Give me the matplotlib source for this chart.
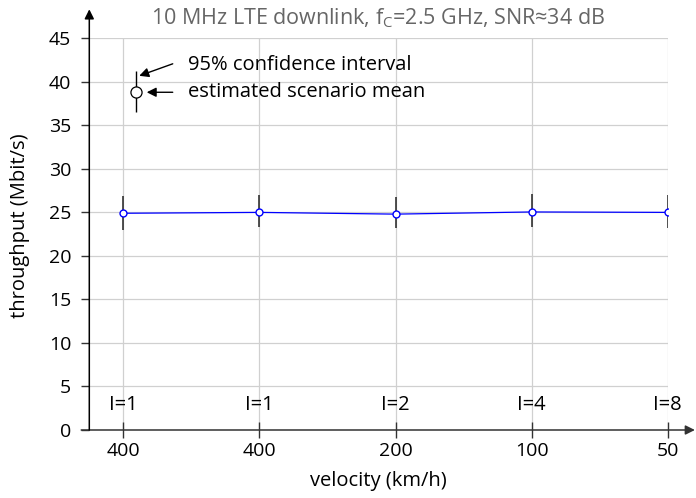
import matplotlib
matplotlib.use("Agg")
import matplotlib.pyplot as plt
import numpy as np

FONT = 'Open Sans'
plt.rcParams['font.family'] = [FONT, 'DejaVu Sans']
plt.rcParams['mathtext.fontset'] = 'custom'
plt.rcParams['mathtext.rm'] = FONT
plt.rcParams['mathtext.it'] = FONT + ':italic'
FS_TICK = 14
FS_TEXT = 14.5
FS_LABEL = 14.5
FS_TITLE = 15.5
FS_I = 14.5

# data
velocity_labels = ['400', '400', '200', '100', '50']
interp_labels = ['I=1', 'I=1', 'I=2', 'I=4', 'I=8']
throughput_mean = [24.9, 25.0, 24.8, 25.05, 25.0]
ci_low = [23.0, 23.3, 23.2, 23.3, 23.2]
ci_high = [26.9, 26.95, 26.8, 27.1, 27.05]
yticks = [0, 5, 10, 15, 20, 25, 30, 35, 40, 45]

fig = plt.figure(figsize=(6.96, 4.98), dpi=100)
ax = fig.add_axes([89.3/696, 1-430/498, (667.7-89.3)/696, (430-38.3)/498])

x = np.arange(1, len(velocity_labels)+1)
mean = np.array(throughput_mean)
err = np.vstack([mean - np.array(ci_low), np.array(ci_high) - mean])

ax.errorbar(x, mean, yerr=err, fmt='none', ecolor='#222222', elinewidth=1.1, capsize=0, zorder=3)
ax.plot(x, mean, color='#0000ff', lw=0.9, marker='o', ms=5, mfc='white', mec='#0000ff', mew=1.0, zorder=4)

ax.set_xlim(0.75, 5.0)
ax.set_ylim(0, 45)
ax.set_xticks(x)
ax.set_xticklabels(velocity_labels)
ax.set_yticks(yticks)
ax.grid(True, color='#d0d0d0', lw=0.9)
ax.set_axisbelow(True)
for s in ax.spines.values():
    s.set_visible(False)
ax.tick_params(axis='x', direction='inout', length=12, width=1, color='#333333', pad=3, labelsize=FS_TICK)
ax.tick_params(axis='y', direction='out', length=6, width=1, color='#333333', pad=7, labelsize=FS_TICK)

# axes arrows
ax.annotate('', xy=(1.047, 0), xytext=(-0.014, 0), xycoords='axes fraction', textcoords='axes fraction',
            arrowprops=dict(arrowstyle='-|>', color='#333333', lw=1.1, mutation_scale=14, shrinkA=0, shrinkB=0))
ax.annotate('', xy=(0, 1.074), xytext=(0, 0), xycoords='axes fraction', textcoords='axes fraction',
            arrowprops=dict(arrowstyle='-|>', color='black', lw=1.1, mutation_scale=14, shrinkA=0, shrinkB=0))

for xi, lab in zip(x, interp_labels):
    ax.text(xi, 2.9, lab, ha='center', va='center', fontsize=FS_I)

# legend-like annotation
ax.errorbar([1.091], [38.8], yerr=[[38.8-36.5], [41.3-38.8]], fmt='o', ms=8, mfc='white', mec='black',
            mew=0.9, ecolor='black', elinewidth=1.0, capsize=0, clip_on=False, zorder=5)
ax.annotate('', xy=(1.117, 40.69), xytext=(1.363, 42.07),
            arrowprops=dict(arrowstyle='-|>', color='black', lw=1.0, mutation_scale=14, shrinkA=0, shrinkB=0))
ax.annotate('', xy=(1.172, 38.8), xytext=(1.363, 38.8),
            arrowprops=dict(arrowstyle='-|>', color='black', lw=1.0, mutation_scale=14, shrinkA=0, shrinkB=0))
ax.text(1.475, 41.95, '95% confidence interval', ha='left', va='center', fontsize=FS_TEXT)
ax.text(1.475, 38.8, 'estimated scenario mean', ha='left', va='center', fontsize=FS_TEXT)

fig.text(378/696, 1-481/498, 'velocity (km/h)', ha='center', va='center', fontsize=FS_LABEL)
fig.text(20/696, 1-225.5/498, 'throughput (Mbit/s)', ha='center', va='center', rotation=90, fontsize=FS_LABEL)

fig.text(378.5/696, 1-18/498, r'10 MHz LTE downlink, f$_\mathregular{C}$=2.5 GHz, SNR≈34 dB',
         ha='center', va='center', fontsize=FS_TITLE, color='#666666')

fig.savefig('out.png', dpi=100)
